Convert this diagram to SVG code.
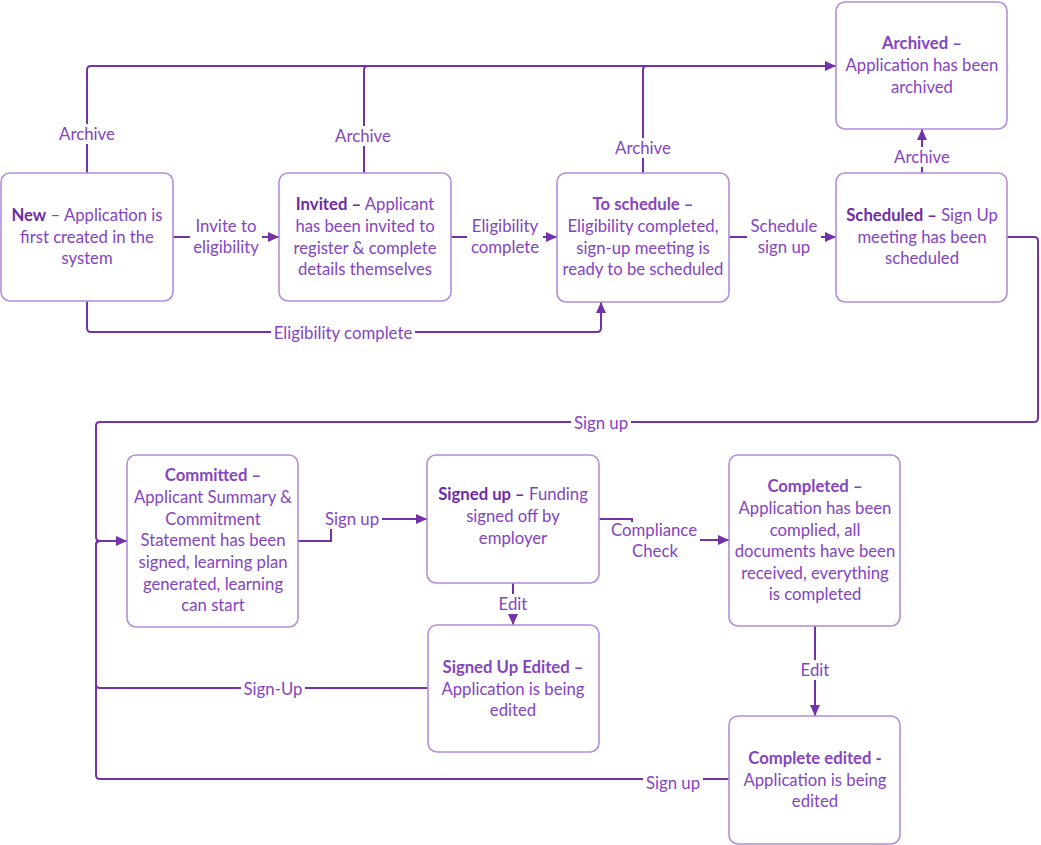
<svg xmlns="http://www.w3.org/2000/svg" width="1041" height="845" viewBox="0 0 1041 845">
<style>
.node rect{fill:#fff;stroke:#b48ddb;stroke-width:1.6}
.node text{font-family:Lato,"Liberation Sans",sans-serif;font-size:16.7px;fill:#8444c2;text-anchor:middle}
.b{font-weight:bold;fill:#6e2ba6}
.conn path{fill:none;stroke:#7432a8;stroke-width:2}
.lbl rect{fill:#fff}
.lbl text{font-family:Lato,"Liberation Sans",sans-serif;font-size:16.8px;fill:#8444c2;text-anchor:middle}
</style>
<defs>
<marker id="ah" markerUnits="userSpaceOnUse" markerWidth="11" markerHeight="10" refX="11" refY="5" orient="auto">
<path d="M0,0 L11,5 L0,10 z" fill="#7432a8"/>
</marker>
</defs>
<rect width="1041" height="845" fill="#fff"/>
<g id="connectors" class="conn">
<path d="M87,173 V70 Q87,66 91,66 H836" marker-end="url(#ah)"/>
<path d="M364,173 V70 Q364,66 368,66 H400"/>
<path d="M643,173 V70 Q643,66 647,66 H680"/>
<path d="M922,173 V129" marker-end="url(#ah)"/>
<path d="M173,237 H279" marker-end="url(#ah)"/>
<path d="M451,237 H557" marker-end="url(#ah)"/>
<path d="M729,237 H836" marker-end="url(#ah)"/>
<path d="M87,301 V328 Q87,332 91,332 H597 Q601,332 601,328 V302" marker-end="url(#ah)"/>
<path d="M1007,237 H1034 Q1038,237 1038,241 V418 Q1038,422 1034,422 H100 Q96,422 96,426 V537 Q96,541 100,541 H127" marker-end="url(#ah)"/>
<path d="M298,541 H331 V519 H427" marker-end="url(#ah)"/>
<path d="M599,519 H632 V540 H729" marker-end="url(#ah)"/>
<path d="M513,583 V625" marker-end="url(#ah)"/>
<path d="M815,626 V716" marker-end="url(#ah)"/>
<path d="M428,688 H100 Q96,688 96,684 V545 Q96,541 100,541"/>
<path d="M729,779 H100 Q96,779 96,775 V545 Q96,541 100,541"/>
</g>
<g id="labels" class="lbl">
<rect x="56" y="124" width="62" height="20"/><text x="87" y="140">Archive</text>
<rect x="332" y="126" width="62" height="20"/><text x="363" y="142">Archive</text>
<rect x="612" y="138" width="62" height="20"/><text x="643" y="154">Archive</text>
<rect x="891" y="147" width="62" height="20"/><text x="922" y="163">Archive</text>
<rect x="190" y="215" width="72" height="44"/><text x="226" y="232">Invite to</text><text x="226" y="253">eligibility</text>
<rect x="467" y="215" width="76" height="44"/><text x="505" y="232">Eligibility</text><text x="505" y="253">complete</text>
<rect x="747" y="215" width="74" height="44"/><text x="784" y="232">Schedule</text><text x="784" y="253">sign up</text>
<rect x="271" y="323" width="144" height="20"/><text x="343" y="339">Eligibility complete</text>
<rect x="571" y="413" width="60" height="20"/><text x="601" y="429">Sign up</text>
<rect x="322" y="509" width="60" height="20"/><text x="352" y="525">Sign up</text>
<rect x="608" y="522" width="92" height="42"/><text x="654" y="536">Compliance</text><text x="655" y="557">Check</text>
<rect x="495" y="594" width="36" height="20"/><text x="513" y="610">Edit</text>
<rect x="797" y="660" width="36" height="20"/><text x="815" y="676">Edit</text>
<rect x="241" y="679" width="64" height="20"/><text x="273" y="695">Sign-Up</text>
<rect x="643" y="773" width="60" height="20"/><text x="673" y="789">Sign up</text>
</g>
<g id="node-new" class="node">
<rect x="1" y="173" width="172" height="128" rx="9"/>
<text x="87" y="221"><tspan class="b">New</tspan> – Application is</text>
<text x="87" y="243">first created in the</text>
<text x="87" y="264">system</text>
</g>
<g id="node-invited" class="node">
<rect x="279" y="173" width="172" height="128" rx="9"/>
<text x="365" y="210"><tspan class="b">Invited –</tspan> Applicant</text>
<text x="365" y="232">has been invited to</text>
<text x="365" y="254">register &amp; complete</text>
<text x="365" y="275">details themselves</text>
</g>
<g id="node-toschedule" class="node">
<rect x="557" y="173" width="172" height="129" rx="9"/>
<text x="643" y="210" class="b">To schedule –</text>
<text x="643" y="232">Eligibility completed,</text>
<text x="643" y="254">sign-up meeting is</text>
<text x="643" y="275">ready to be scheduled</text>
</g>
<g id="node-scheduled" class="node">
<rect x="836" y="173" width="171" height="129" rx="9"/>
<text x="922" y="221"><tspan class="b">Scheduled –</tspan> Sign Up</text>
<text x="922" y="243">meeting has been</text>
<text x="922" y="264">scheduled</text>
</g>
<g id="node-archived" class="node">
<rect x="836" y="2" width="171" height="127" rx="9"/>
<text x="922" y="49" class="b">Archived –</text>
<text x="922" y="71">Application has been</text>
<text x="922" y="93">archived</text>
</g>
<g id="node-committed" class="node">
<rect x="127" y="455" width="171" height="172" rx="9"/>
<text x="213" y="481" class="b">Committed –</text>
<text x="213" y="503">Applicant Summary &amp;</text>
<text x="213" y="525">Commitment</text>
<text x="213" y="546">Statement has been</text>
<text x="213" y="568">signed, learning plan</text>
<text x="213" y="590">generated, learning</text>
<text x="213" y="611">can start</text>
</g>
<g id="node-signedup" class="node">
<rect x="427" y="455" width="172" height="128" rx="9"/>
<text x="513" y="500"><tspan class="b">Signed up –</tspan> Funding</text>
<text x="513" y="522">signed off by</text>
<text x="513" y="544">employer</text>
</g>
<g id="node-completed" class="node">
<rect x="729" y="455" width="171" height="171" rx="9"/>
<text x="815" y="492" class="b">Completed –</text>
<text x="815" y="514">Application has been</text>
<text x="815" y="536">complied, all</text>
<text x="815" y="557">documents have been</text>
<text x="815" y="579">received, everything</text>
<text x="815" y="600">is completed</text>
</g>
<g id="node-signedupedited" class="node">
<rect x="428" y="625" width="171" height="127" rx="9"/>
<text x="513" y="673" class="b">Signed Up Edited –</text>
<text x="513" y="695">Application is being</text>
<text x="513" y="716">edited</text>
</g>
<g id="node-completeedited" class="node">
<rect x="729" y="716" width="171" height="128" rx="9"/>
<text x="815" y="764" class="b">Complete edited -</text>
<text x="815" y="786">Application is being</text>
<text x="815" y="807">edited</text>
</g>
</svg>
